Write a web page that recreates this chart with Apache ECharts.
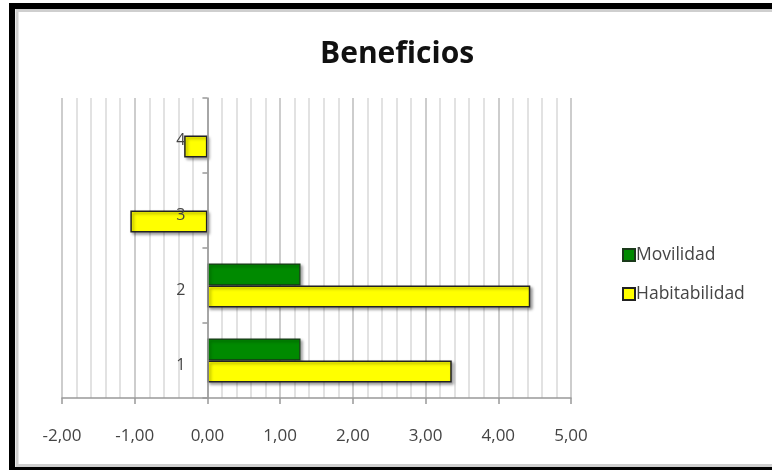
<!DOCTYPE html>
<html>
<head>
<meta charset="utf-8">
<script src="https://cdn.jsdelivr.net/npm/echarts@6/dist/echarts.min.js"></script>
<style>
  html, body { margin: 0; padding: 0; background: #fff; }
  #chart { width: 772px; height: 470px; }
</style>
</head>
<body>
<div id="chart"></div>
<script>
// Categories (bottom to top) and the two benefit series
const categories = ['1', '2', '3', '4'];
const movilidad = [1.28, 1.28, 0, 0];
const habitabilidad = [3.36, 4.44, -1.06, -0.32];
const seriesNames = ['Movilidad', 'Habitabilidad'];
const xMin = -2, xMax = 5, xStep = 1;

const fmt = v => v.toFixed(2).replace('.', ',');
const font = '"Open Sans", Lato, sans-serif';

// grid geometry: the category axis sits on value 0
const gridLeft = 62, gridRight = 201, chartWidth = 772;
const plotW = chartWidth - gridLeft - gridRight;
const zeroOffset = -plotW * (0 - xMin) / (xMax - xMin);

// empty (zero) entries are left blank so no sliver is drawn
const blankZero = arr => arr.map(v => (v === 0 ? '-' : v));

const chart = echarts.init(document.getElementById('chart'), null, { renderer: 'canvas' });

const barShadow = {
  shadowColor: 'rgba(0,0,0,0.35)',
  shadowBlur: 3,
  shadowOffsetX: 2,
  shadowOffsetY: 2
};

chart.setOption({
  animation: false,
  backgroundColor: '#fff',
  title: {
    text: 'Beneficios',
    left: 315,
    top: 34,
    textStyle: { fontFamily: font, fontWeight: 'bold', fontSize: 30, color: '#111' }
  },
  legend: {
    orient: 'vertical',
    left: 617,
    top: 241,
    itemWidth: 12,
    itemHeight: 12,
    itemGap: 21,
    icon: 'rect',
    data: seriesNames,
    textStyle: { fontFamily: font, fontSize: 17.5, color: '#444', padding: [0, 0, 0, -4] }
  },
  grid: { left: gridLeft, right: gridRight, top: 98, bottom: 72 },
  xAxis: {
    type: 'value',
    min: xMin,
    max: xMax,
    interval: xStep,
    axisLine: { show: true, lineStyle: { color: '#999', width: 1.5 } },
    axisTick: { show: true, length: 6, lineStyle: { color: '#999', width: 1.5 } },
    axisLabel: { formatter: fmt, margin: 30, fontFamily: font, fontSize: 17, color: '#444' },
    splitLine: { show: true, lineStyle: { color: '#bdbdbd', width: 1.5 } },
    minorTick: { show: false, splitNumber: 5 },
    minorSplitLine: { show: true, lineStyle: { color: '#d9d9d9', width: 1.5 } }
  },
  yAxis: {
    type: 'category',
    data: categories,
    offset: zeroOffset,
    z: 5,
    axisLine: { show: true, onZero: false, lineStyle: { color: '#999', width: 1.5 } },
    axisTick: { show: true, length: 5, lineStyle: { color: '#999', width: 1.5 } },
    axisLabel: {
      margin: 22, fontFamily: font, fontSize: 16, color: '#444',
      verticalAlign: 'top', lineHeight: 10
    },
    splitLine: { show: false }
  },
  series: [
    {
      name: seriesNames[0],
      type: 'bar',
      data: blankZero(movilidad),
      barWidth: 22,
      barGap: '0%',
      itemStyle: Object.assign({ color: '#008a00', borderColor: '#1a3a1a', borderWidth: 1.2 }, barShadow)
    },
    {
      name: seriesNames[1],
      type: 'bar',
      data: blankZero(habitabilidad),
      barWidth: 22,
      barGap: '0%',
      itemStyle: Object.assign({ color: '#ffff00', borderColor: '#222', borderWidth: 1.5 }, barShadow)
    }
  ],
  graphic: [
    {
      type: 'rect',
      silent: true,
      z: 100,
      shape: { x: 17, y: 10.5, width: 800, height: 455 },
      style: { fill: null, stroke: '#cfcfcf', lineWidth: 3 }
    },
    {
      type: 'rect',
      silent: true,
      z: 101,
      shape: { x: 12, y: 6, width: 800, height: 464 },
      style: { fill: null, stroke: '#000', lineWidth: 6 }
    }
  ]
});
</script>
</body>
</html>
